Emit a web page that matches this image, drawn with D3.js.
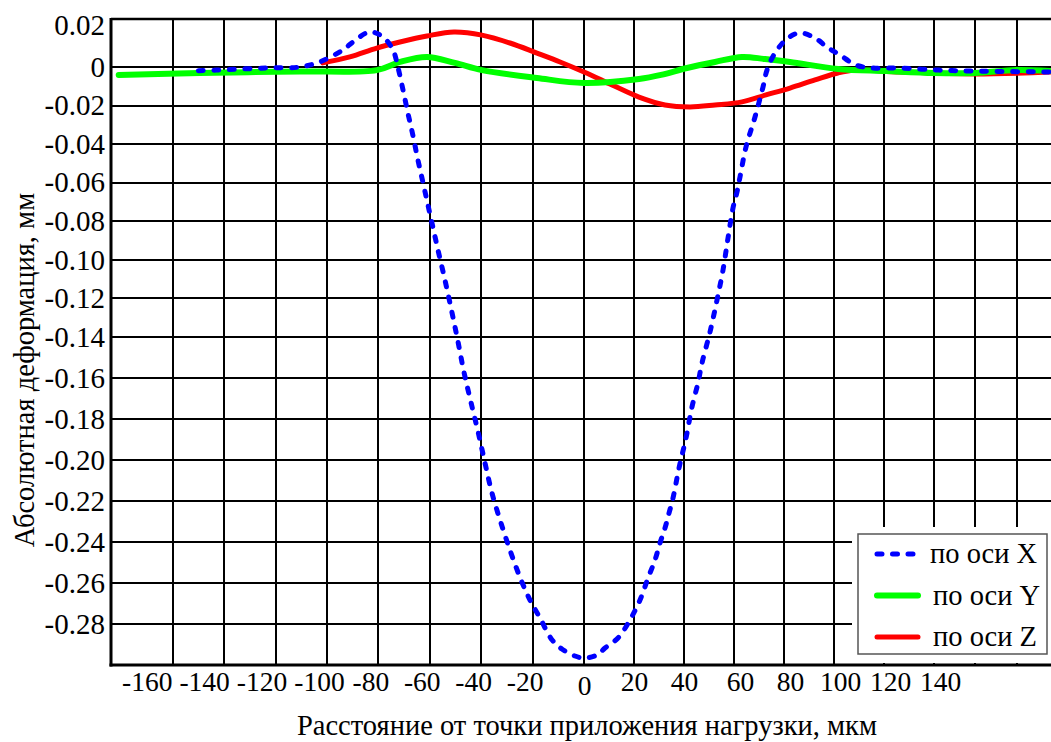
<!DOCTYPE html>
<html>
<head>
<meta charset="utf-8">
<title>Абсолютная деформация</title>
<script src="https://cdn.jsdelivr.net/npm/d3@7"></script>
<style>
    body { margin: 0; background: #fff; }
    svg text { font-family: 'Liberation Serif', 'Times New Roman', 'DejaVu Serif', serif !important; fill: #000; }
</style>
</head>
<body>
<svg width="1051" height="742" id="mainsvg"></svg>
<script>
// --- данные ---
const xGrid = [-160, -140, -120, -100, -80, -60, -40, -20, 0, 20, 40, 60, 80, 100, 120, 140, 160, 180];
const xTicks = [-160, -140, -120, -100, -80, -60, -40, -20, 0, 20, 40, 60, 80, 100, 120, 140];
const xTickLabels = ["-160", "-140", "-120", "-100", "-80", "-60", "-40", "-20", "0", "20", "40", "60", "80", "100", "120", "140"];
const yTicks = [0.02, 0, -0.02, -0.04, -0.06, -0.08, -0.10, -0.12, -0.14, -0.16, -0.18, -0.20, -0.22, -0.24, -0.26, -0.28];
const yTickLabels = ["0.02", "0", "-0.02", "-0.04", "-0.06", "-0.08", "-0.10", "-0.12", "-0.14", "-0.16", "-0.18", "-0.20", "-0.22", "-0.24", "-0.26", "-0.28"];
const seriesNames = ["по оси X", "по оси Y", "по оси Z"];

// по оси X (синяя пунктирная)
const xPosX = [-150, -143, -123.4, -110.5, -102.8, -93.8, -89.9, -83.3, -78.2, -74.3, -72.4, -70.4, -68.5, -66.5, -64.6, -62.6, -60.7, -58.7, -56.8, -54.1, -51.4, -49.0, -46.7, -44.0, -41.2, -38.5, -35.8, -32.3, -28.4, -24.5, -21.0, -17.1, -12.4, -8.6, -3.5, 0, 5.2, 8.4, 13.6, 18.4, 22.4, 25.6, 28.4, 30.4, 32.4, 34.0, 35.6, 38.0, 40.8, 43.2, 45.6, 47.2, 50.4, 53.2, 55.6, 57.6, 59.6, 61.2, 62.4, 64.8, 68.4, 71.6, 73.2, 76.4, 81.6, 86.4, 92.4, 97.2, 102.4, 108.8, 115.6, 125.6, 142.4, 158.8, 196];
const defX = [-0.0019, -0.0016, -0.0005, 0, 0.0021, 0.0071, 0.0104, 0.0146, 0.0125, 0.0071, 0, -0.0119, -0.0239, -0.0358, -0.0482, -0.0601, -0.0716, -0.0835, -0.0949, -0.1104, -0.1270, -0.1424, -0.1571, -0.1717, -0.1863, -0.2015, -0.2161, -0.2307, -0.2454, -0.2585, -0.2683, -0.2771, -0.2878, -0.2922, -0.2956, -0.2966, -0.2951, -0.2917, -0.2868, -0.2780, -0.2683, -0.2576, -0.2488, -0.2405, -0.2332, -0.2259, -0.2186, -0.2039, -0.1893, -0.1741, -0.1624, -0.1527, -0.1374, -0.1208, -0.1053, -0.0887, -0.0731, -0.0648, -0.0570, -0.0415, -0.0259, -0.0104, -0.0016, 0.0058, 0.0121, 0.0142, 0.0121, 0.0083, 0.0050, 0.0008, -0.0005, -0.0005, -0.0016, -0.0021, -0.0026];

// по оси Y (зелёная)
const xPosY = [-181, -149.5, -110.5, -80.6, -71.6, -61.1, -50.2, -39.7, -18.3, 0, 22, 30.8, 41.2, 52.4, 63.2, 72.4, 82.4, 101.6, 120.8, 140, 159.8, 179.6, 196];
const defY = [-0.0041, -0.0031, -0.0023, -0.0016, 0.0021, 0.0042, 0.0017, -0.0016, -0.0057, -0.0083, -0.0062, -0.0041, -0.0005, 0.0021, 0.0042, 0.0033, 0.0021, -0.0010, -0.0021, -0.0031, -0.0031, -0.0016, -0.0021];

// по оси Z (красная)
const xPosZ = [-101.6, -91.1, -80.6, -71.6, -61.1, -50.6, -39.7, -28.8, -18.3, -9.3, 0, 11.2, 22, 32.4, 42.4, 52.4, 63.2, 72.8, 82.4, 92.4, 101.6, 108.8, 126.4, 159.8, 196];
const defZ = [0.0017, 0.0042, 0.0079, 0.0104, 0.0129, 0.0146, 0.0133, 0.0100, 0.0058, 0.0021, -0.0026, -0.0093, -0.0156, -0.0197, -0.0207, -0.0197, -0.0181, -0.0145, -0.0109, -0.0067, -0.0031, -0.0016, -0.0026, -0.0036, -0.0026];

const svg = d3.select('svg');
const plotLeft = 111, plotRight = 1051, plotTop = 19, plotBottom = 665;
const serif = "'Liberation Serif', 'Times New Roman', 'DejaVu Serif', serif";

// сетка на рисунке неравномерная, поэтому шкалы кусочно-линейные
const x = d3.scaleLinear().domain([-184, 0, 140, 196]).range([plotLeft, 584, 934, 1050]);
const y = d3.scaleLinear().domain([0.02, 0, -0.14, -0.30]).range([plotTop, 67, 337, plotBottom]);

const grid = svg.append('g').attr('id', 'grid');
grid.selectAll('.hline').data(yTicks).join('line')
    .attr('class', 'hline')
    .attr('x1', plotLeft).attr('x2', plotRight)
    .attr('y1', d => Math.round(y(d))).attr('y2', d => Math.round(y(d)))
    .attr('stroke', '#000').attr('stroke-width', d => d === 0.02 ? 2.5 : 2);
grid.selectAll('.vline').data(xGrid).join('line')
    .attr('class', 'vline')
    .attr('x1', d => Math.round(x(d))).attr('x2', d => Math.round(x(d)))
    .attr('y1', plotTop).attr('y2', plotBottom)
    .attr('stroke', '#000').attr('stroke-width', 2);

// оси
svg.append('line').attr('x1', plotLeft).attr('x2', plotLeft).attr('y1', plotTop - 1).attr('y2', plotBottom + 1.5)
    .attr('stroke', '#000').attr('stroke-width', 3);
svg.append('line').attr('x1', plotLeft - 1.5).attr('x2', plotRight).attr('y1', plotBottom).attr('y2', plotBottom)
    .attr('stroke', '#000').attr('stroke-width', 3);

const yAxis = svg.append('g').attr('transform', `translate(${plotLeft},0)`)
    .call(d3.axisLeft(y).tickValues(yTicks).tickFormat((d, i) => yTickLabels[i]).tickSize(0).tickPadding(6));
yAxis.select('.domain').remove();
yAxis.attr('font-family', null);
yAxis.selectAll('text').style('font-family', serif).style('font-size', '29px')
    .attr('dy', d => d === 0.02 ? '0.55em' : '0.32em');

// подписи по X набраны в оригинале "на глаз" - немного сдвигаем их
const labelShift = d => d < -100 ? -8 + (d + 100) * 0.3 : d < 0 ? -8 : d >= 60 ? 6 : 0;
const xAxis = svg.append('g').attr('transform', `translate(0,${plotBottom})`)
    .call(d3.axisBottom(x).tickValues(xTicks).tickFormat((d, i) => xTickLabels[i]).tickSize(0).tickPadding(6));
xAxis.select('.domain').remove();
xAxis.attr('font-family', null);
xAxis.selectAll('text').style('font-family', serif).style('font-size', '27.5px')
    .attr('dx', labelShift)
    .attr('dy', d => d === 0 ? '0.86em' : '0.71em');

// подписи осей
svg.append('text')
    .attr('x', 587).attr('y', 735)
    .attr('text-anchor', 'middle')
    .style('font-family', serif).style('font-size', '28.5px')
    .text('Расстояние от точки приложения нагрузки, мкм');
svg.append('text')
    .attr('transform', 'translate(34,370) rotate(-90)')
    .attr('text-anchor', 'middle')
    .style('font-family', serif).style('font-size', '28.5px')
    .text('Абсолютная деформация, мм');

// кривые
const series = [
    { name: seriesNames[2], xs: xPosZ, ys: defZ, color: '#ff0000', width: 5, dash: null },
    { name: seriesNames[1], xs: xPosY, ys: defY, color: '#00ff00', width: 6, dash: null },
    { name: seriesNames[0], xs: xPosX, ys: defX, color: '#0000ff', width: 5, dash: '5 10.5' }
];
const line = d3.line()
    .x(d => x(d[0]))
    .y(d => y(d[1]))
    .curve(d3.curveCatmullRom.alpha(0.5));

const plot = svg.append('g').attr('id', 'curves');
series.forEach(s => {
    plot.append('path')
        .datum(d3.zip(s.xs, s.ys))
        .attr('d', line)
        .attr('fill', 'none')
        .attr('stroke', s.color)
        .attr('stroke-width', s.width)
        .attr('stroke-linecap', 'round')
        .attr('stroke-linejoin', 'round')
        .attr('stroke-dasharray', s.dash);
});

// легенда
const lg = svg.append('g').attr('id', 'legend');
lg.append('rect').attr('x', 852).attr('y', 527).attr('width', 199).attr('height', 136).attr('fill', '#fff');
lg.append('rect').attr('x', 858).attr('y', 534).attr('width', 189).attr('height', 120)
    .attr('fill', '#fff').attr('stroke', '#555').attr('stroke-width', 1.5);
const legendItems = [series[2], series[1], series[0]];
legendItems.forEach((s, i) => {
    const ly = 554 + i * 41.5;
    lg.append('line')
        .attr('x1', 877).attr('x2', 918).attr('y1', ly).attr('y2', ly)
        .attr('stroke', s.color).attr('stroke-width', s.width)
        .attr('stroke-linecap', 'round')
        .attr('stroke-dasharray', s.dash);
    lg.append('text')
        .attr('x', i === 0 ? 930 : 933).attr('y', ly).attr('dy', '0.33em')
        .style('font-family', serif).style('font-size', '28.5px')
        .text(s.name);
});
</script>
</body>
</html>
